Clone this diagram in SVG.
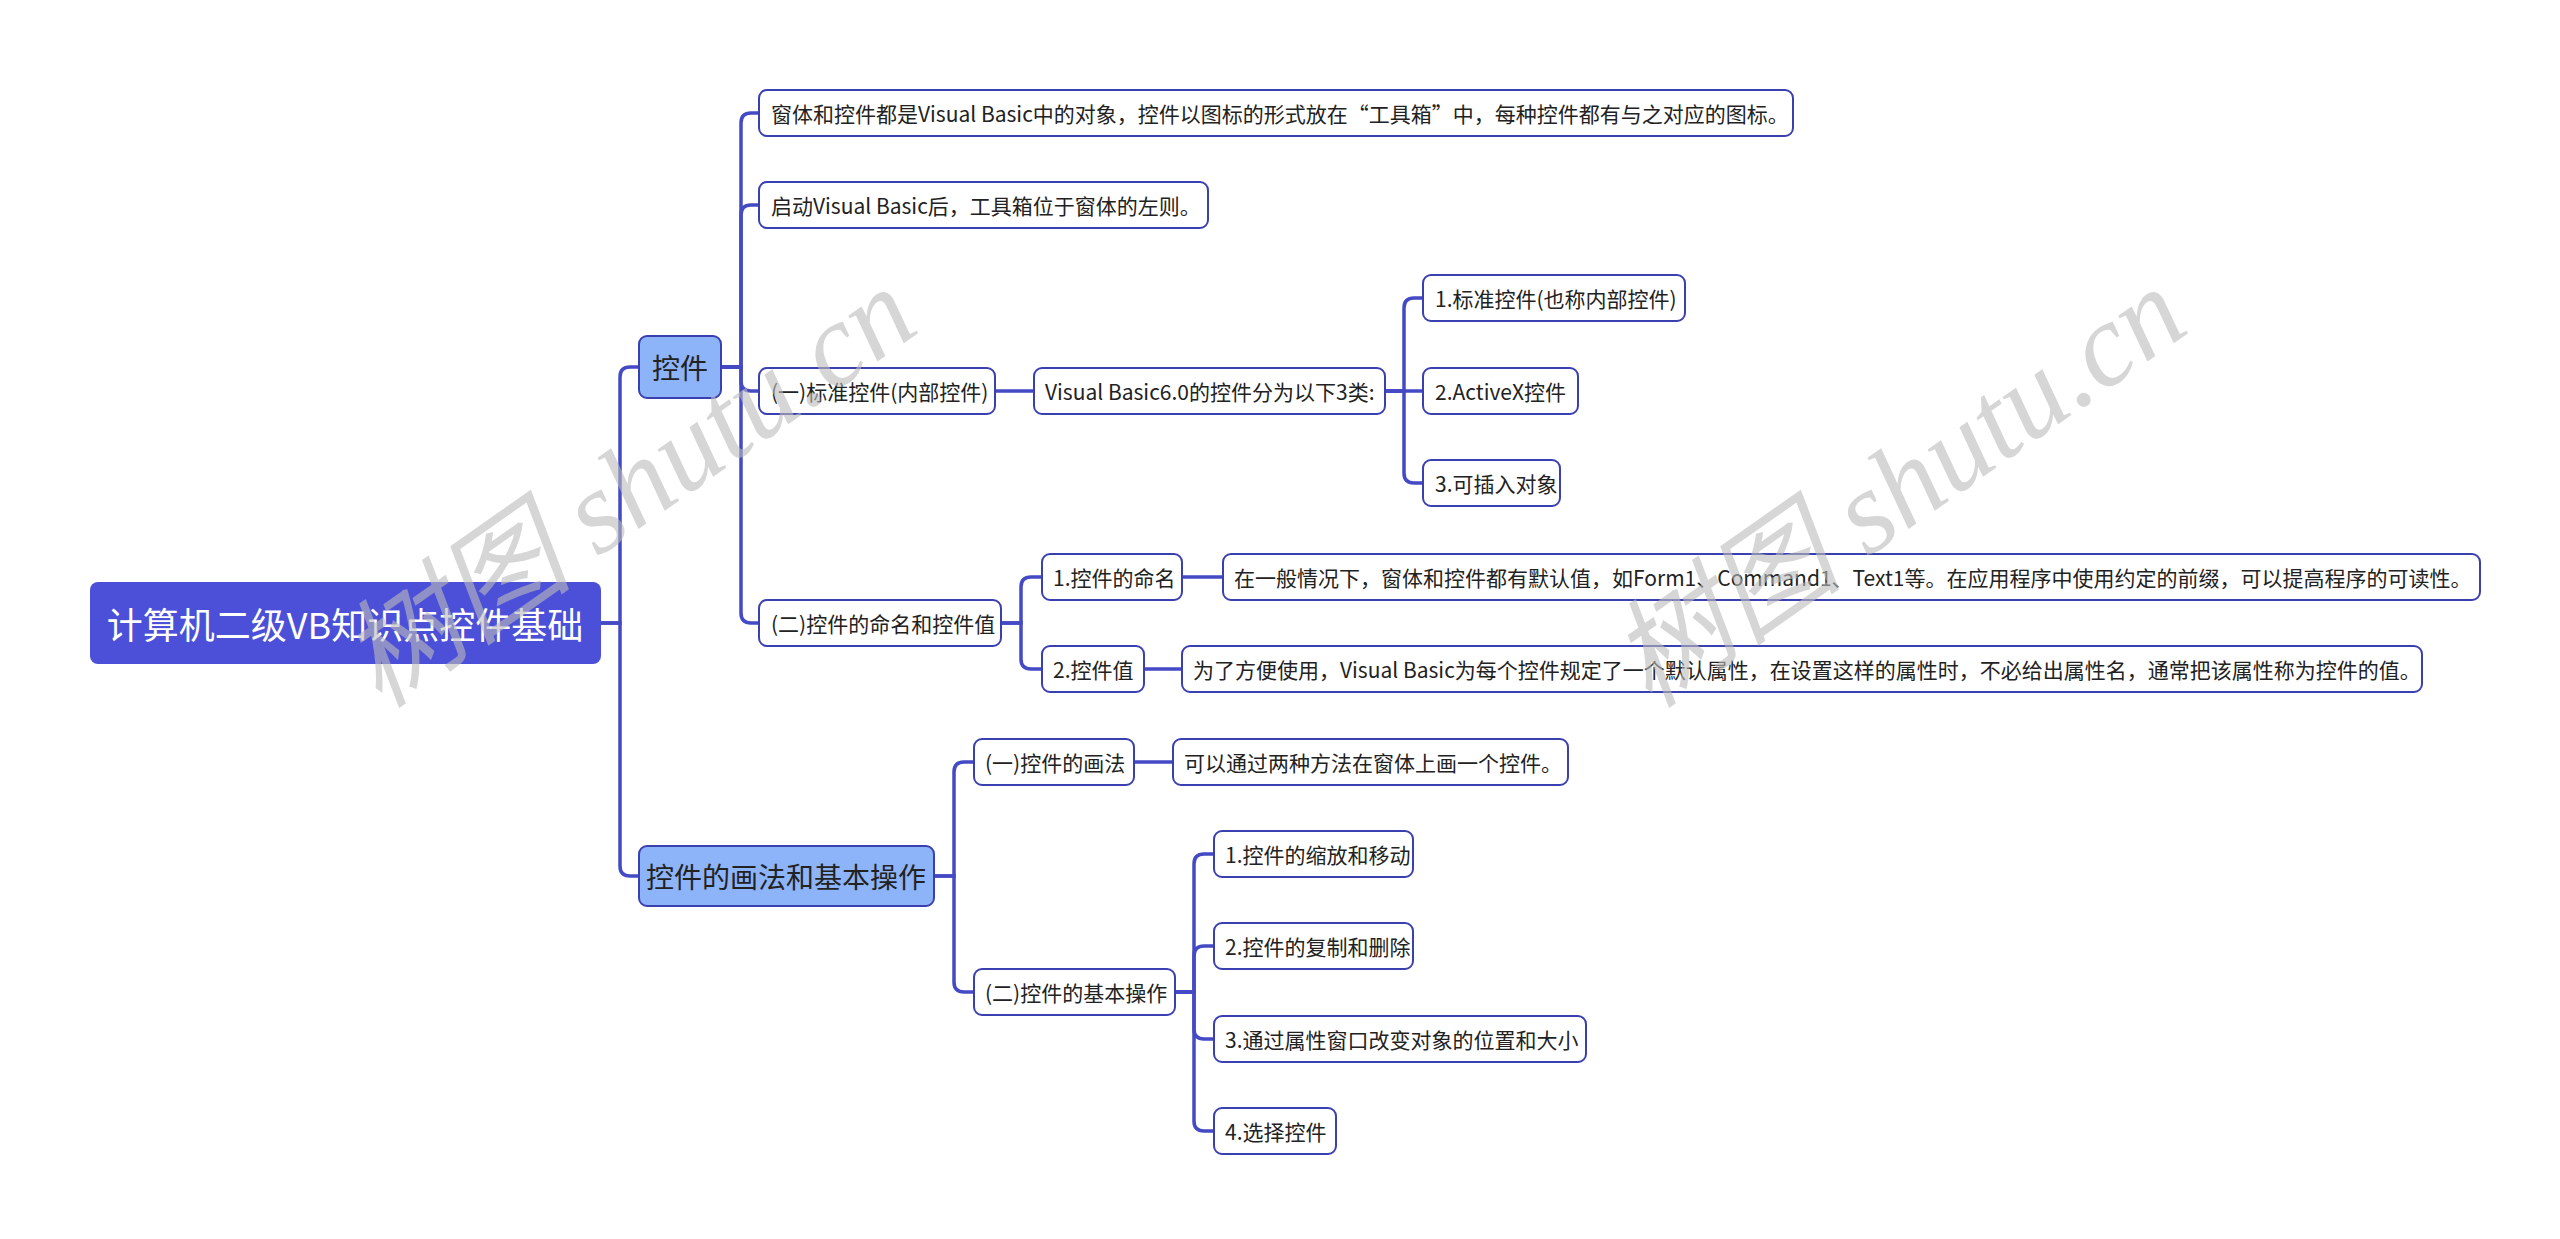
<svg xmlns="http://www.w3.org/2000/svg" width="2560" height="1239" viewBox="0 0 2560 1239">
<style>
.n rect{fill:#fff;stroke:#3b40b0;stroke-width:2}
.n text{font-family:"Noto Sans CJK SC","Microsoft YaHei",sans-serif;font-size:21px;fill:#222;dominant-baseline:central}
.l1 rect{fill:#8db3f8;stroke:#3b40b0;stroke-width:2}
.l1 text{font-family:"Noto Sans CJK SC",sans-serif;font-size:28px;fill:#222;dominant-baseline:central}
.root rect{fill:#4c50d8}
.root text{font-family:"Noto Sans CJK SC",sans-serif;font-size:36px;fill:#fff;dominant-baseline:central}
#edges path{fill:none;stroke:#444ac4;stroke-width:3.5}
.wm{font-family:"Liberation Serif","Noto Sans CJK SC",serif;font-size:118px;font-style:italic;fill:#bbb;opacity:0.6}
</style>
<rect width="2560" height="1239" fill="#fff"/>
<g id="edges">
<path d="M601,623 H620 V377 Q620,367 630,367 H639"/>
<path d="M601,623 H620 V866 Q620,876 630,876 H639"/>
<path d="M721,367 H741 V123 Q741,113 751,113 H759"/>
<path d="M721,367 H741 V215 Q741,205 751,205 H759"/>
<path d="M721,367 H741 V381 Q741,391 751,391 H759"/>
<path d="M721,367 H741 V613 Q741,623 751,623 H759"/>
<path d="M995,391 H1034"/>
<path d="M1385,391 H1404 V308 Q1404,298 1414,298 H1423"/>
<path d="M1385,391 H1423"/>
<path d="M1385,391 H1404 V473 Q1404,483 1414,483 H1423"/>
<path d="M1001,623 H1021 V587 Q1021,577 1031,577 H1042"/>
<path d="M1001,623 H1021 V659 Q1021,669 1031,669 H1042"/>
<path d="M1182,577 H1223"/>
<path d="M1144,669 H1182"/>
<path d="M934,876 H954 V772 Q954,762 964,762 H974"/>
<path d="M934,876 H954 V982 Q954,992 964,992 H974"/>
<path d="M1134,762 H1173"/>
<path d="M1175,992 H1194 V864 Q1194,854 1204,854 H1214"/>
<path d="M1175,992 H1194 V956 Q1194,946 1204,946 H1214"/>
<path d="M1175,992 H1194 V1029 Q1194,1039 1204,1039 H1214"/>
<path d="M1175,992 H1194 V1121 Q1194,1131 1204,1131 H1214"/>
</g>
<g id="root" class="root"><rect x="90" y="582" width="511" height="82" rx="8"/><text x="345" y="623" text-anchor="middle">计算机二级VB知识点控件基础</text></g>
<g id="k1" class="l1"><rect x="639" y="336" width="82" height="62" rx="8"/><text x="680" y="367" text-anchor="middle">控件</text></g>
<g id="k2" class="l1"><rect x="639" y="846" width="295" height="60" rx="8"/><text x="786" y="876" text-anchor="middle">控件的画法和基本操作</text></g>
<g id="a1" class="n"><rect x="759" y="90" width="1034" height="46" rx="8"/><text x="771" y="113">窗体和控件都是Visual Basic中的对象，控件以图标的形式放在“工具箱”中，每种控件都有与之对应的图标。</text></g>
<g id="a2" class="n"><rect x="759" y="182" width="449" height="46" rx="8"/><text x="771" y="205">启动Visual Basic后，工具箱位于窗体的左则。</text></g>
<g id="a3" class="n"><rect x="759" y="368" width="236" height="46" rx="8"/><text x="771" y="391">(一)标准控件(内部控件)</text></g>
<g id="a3c" class="n"><rect x="1034" y="368" width="351" height="46" rx="8"/><text x="1045" y="391">Visual Basic6.0的控件分为以下3类:</text></g>
<g id="b1" class="n"><rect x="1423" y="275" width="262" height="46" rx="8"/><text x="1435" y="298">1.标准控件(也称内部控件)</text></g>
<g id="b2" class="n"><rect x="1423" y="368" width="155" height="46" rx="8"/><text x="1435" y="391">2.ActiveX控件</text></g>
<g id="b3" class="n"><rect x="1423" y="460" width="137" height="46" rx="8"/><text x="1435" y="483">3.可插入对象</text></g>
<g id="a4" class="n"><rect x="759" y="600" width="242" height="46" rx="8"/><text x="771" y="623">(二)控件的命名和控件值</text></g>
<g id="c1" class="n"><rect x="1042" y="554" width="140" height="46" rx="8"/><text x="1053" y="577">1.控件的命名</text></g>
<g id="c1t" class="n"><rect x="1223" y="554" width="1257" height="46" rx="8"/><text x="1234" y="577">在一般情况下，窗体和控件都有默认值，如Form1、Command1、Text1等。在应用程序中使用约定的前缀，可以提高程序的可读性。</text></g>
<g id="c2" class="n"><rect x="1042" y="646" width="102" height="46" rx="8"/><text x="1053" y="669">2.控件值</text></g>
<g id="c2t" class="n"><rect x="1182" y="646" width="1240" height="46" rx="8"/><text x="1193" y="669">为了方便使用，Visual Basic为每个控件规定了一个默认属性，在设置这样的属性时，不必给出属性名，通常把该属性称为控件的值。</text></g>
<g id="d1" class="n"><rect x="974" y="739" width="160" height="46" rx="8"/><text x="985" y="762">(一)控件的画法</text></g>
<g id="d1t" class="n"><rect x="1173" y="739" width="395" height="46" rx="8"/><text x="1184" y="762">可以通过两种方法在窗体上画一个控件。</text></g>
<g id="d2" class="n"><rect x="974" y="969" width="201" height="46" rx="8"/><text x="985" y="992">(二)控件的基本操作</text></g>
<g id="e1" class="n"><rect x="1214" y="831" width="199" height="46" rx="8"/><text x="1225" y="854">1.控件的缩放和移动</text></g>
<g id="e2" class="n"><rect x="1214" y="923" width="199" height="46" rx="8"/><text x="1225" y="946">2.控件的复制和删除</text></g>
<g id="e3" class="n"><rect x="1214" y="1016" width="372" height="46" rx="8"/><text x="1225" y="1039">3.通过属性窗口改变对象的位置和大小</text></g>
<g id="e4" class="n"><rect x="1214" y="1108" width="122" height="46" rx="8"/><text x="1225" y="1131">4.选择控件</text></g>
<text class="wm" transform="translate(380,710) rotate(-35)">树图 shutu.cn</text>
<text class="wm" transform="translate(1650,710) rotate(-35)">树图 shutu.cn</text>
</svg>
